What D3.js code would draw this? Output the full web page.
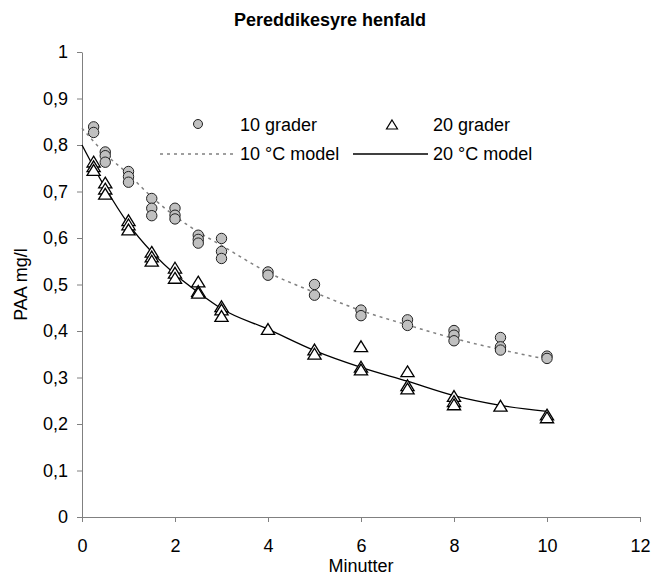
<!DOCTYPE html>
<html lang="da">
<head>
<meta charset="utf-8">
<title>Pereddikesyre henfald</title>
<script src="https://d3js.org/d3.v7.min.js"></script>
<style>
  body { margin: 0; background: #fff; }
  svg { font-family: "Liberation Sans", Arial, sans-serif; }
  .tick text { font-size: 18px; fill: #000; }
</style>
</head>
<body>
<svg id="chart" width="654" height="575"></svg>
<script>
// data
var t10 = [0.25,0.25, 0.5,0.5,0.5, 1,1,1, 1.5,1.5,1.5, 2,2,2, 2.5,2.5,2.5, 3,3,3, 4,4, 5,5, 6,6, 7,7, 8,8,8, 9,9,9, 10,10];
var paa10 = [0.839,0.827, 0.785,0.777,0.763, 0.743,0.732,0.720, 0.685,0.664,0.648, 0.664,0.649,0.641, 0.606,0.597,0.589, 0.599,0.571,0.556, 0.527,0.520, 0.500,0.477, 0.445,0.433, 0.424,0.412, 0.401,0.391,0.379, 0.386,0.366,0.359, 0.346,0.341];

var t20 = [0.25,0.25,0.25, 0.5,0.5,0.5, 1,1,1, 1.5,1.5,1.5, 2,2,2, 2.5,2.5,2.5, 3,3,3, 4, 5,5, 6,6,6, 7,7,7, 8,8,8, 9, 10,10];
var paa20 = [0.763,0.753,0.745, 0.718,0.705,0.694, 0.637,0.628,0.617, 0.569,0.559,0.550, 0.535,0.524,0.513, 0.505,0.485,0.481, 0.452,0.445,0.431, 0.403, 0.359,0.350, 0.366,0.322,0.316, 0.312,0.282,0.275, 0.259,0.248,0.241, 0.238, 0.219,0.213];

var tModel = [0, 0.5, 1, 1.5, 2, 2.5, 3, 4, 5, 6, 7, 8, 9, 10];
var model10 = [0.836, 0.781, 0.737, 0.688, 0.647, 0.613, 0.584, 0.526, 0.483, 0.444, 0.413, 0.384, 0.360, 0.339];
var model20 = [0.800, 0.708, 0.630, 0.570, 0.522, 0.483, 0.448, 0.404, 0.358, 0.322, 0.292, 0.261, 0.240, 0.227];

var xTicks = [0, 2, 4, 6, 8, 10, 12];
var yTicks = [0, 0.1, 0.2, 0.3, 0.4, 0.5, 0.6, 0.7, 0.8, 0.9, 1];

var svg = d3.select("#chart");
var plotL = 82, plotR = 640, plotT = 52, plotB = 517;

var x = d3.scaleLinear().domain([0, 12]).range([plotL, plotR]);
var y = d3.scaleLinear().domain([0, 1]).range([plotB, plotT]);

var da = d3.formatLocale({decimal: ",", thousands: ".", grouping: [3], currency: ["", ""]});
var fmt = da.format("~g");

// axes
var xAxis = svg.append("g")
    .attr("transform", "translate(0," + plotB + ")")
    .call(d3.axisBottom(x).tickValues(xTicks).tickFormat(fmt).tickSize(5).tickSizeOuter(0));
var yAxis = svg.append("g")
    .attr("transform", "translate(" + plotL + ",0)")
    .call(d3.axisLeft(y).tickValues(yTicks).tickFormat(fmt).tickSize(5).tickPadding(9).tickSizeOuter(0));
svg.selectAll(".domain, .tick line").attr("stroke", "#808080");
xAxis.selectAll(".tick text").attr("y", 35).attr("dy", 0);

// model curves
var line = d3.line()
    .x(function(d) { return x(d[0]); })
    .y(function(d) { return y(d[1]); })
    .curve(d3.curveMonotoneX);

svg.append("path")
    .datum(d3.zip(tModel, model10))
    .attr("d", line)
    .attr("fill", "none")
    .attr("stroke", "#808080")
    .attr("stroke-width", 1.5)
    .attr("stroke-dasharray", "3,4");

svg.append("path")
    .datum(d3.zip(tModel, model20))
    .attr("d", line)
    .attr("fill", "none")
    .attr("stroke", "#000")
    .attr("stroke-width", 1.3);

// markers
function tri(s) {
  return "M0," + (-s) + "L" + (s * 1.1) + "," + (s * 0.8) + "L" + (-s * 1.1) + "," + (s * 0.8) + "Z";
}

svg.append("g").selectAll("path")
    .data(d3.zip(t20, paa20))
  .enter().append("path")
    .attr("d", tri(6))
    .attr("transform", function(d) { return "translate(" + x(d[0]) + "," + y(d[1]) + ")"; })
    .attr("fill", "#fff")
    .attr("stroke", "#000")
    .attr("stroke-width", 1.3);

svg.append("g").selectAll("circle")
    .data(d3.zip(t10, paa10))
  .enter().append("circle")
    .attr("cx", function(d) { return x(d[0]); })
    .attr("cy", function(d) { return y(d[1]); })
    .attr("r", 5.2)
    .attr("fill", "#c0c0c0")
    .attr("stroke", "#222")
    .attr("stroke-width", 1);

// legend
var lg = svg.append("g").attr("font-size", 18);
lg.append("circle").attr("cx", 198).attr("cy", 124).attr("r", 4.5)
    .attr("fill", "#c0c0c0").attr("stroke", "#222");
lg.append("text").attr("x", 240).attr("y", 130.5).text("10 grader");
lg.append("path").attr("d", tri(5)).attr("transform", "translate(392,125)")
    .attr("fill", "#fff").attr("stroke", "#000").attr("stroke-width", 1.2);
lg.append("text").attr("x", 433).attr("y", 130.5).text("20 grader");
lg.append("line").attr("x1", 160).attr("x2", 235).attr("y1", 154).attr("y2", 154)
    .attr("stroke", "#808080").attr("stroke-width", 1.5).attr("stroke-dasharray", "3,4");
lg.append("text").attr("x", 240).attr("y", 160).text("10 °C model");
lg.append("line").attr("x1", 353).attr("x2", 428).attr("y1", 154).attr("y2", 154)
    .attr("stroke", "#000").attr("stroke-width", 1.3);
lg.append("text").attr("x", 433).attr("y", 160).text("20 °C model");

// titles
svg.append("text").attr("x", 330).attr("y", 26).attr("text-anchor", "middle")
    .attr("font-size", 18).attr("font-weight", "bold").text("Pereddikesyre henfald");
svg.append("text").attr("x", (plotL + plotR) / 2).attr("y", 572).attr("text-anchor", "middle")
    .attr("font-size", 18).text("Minutter");
svg.append("text").attr("transform", "translate(27," + ((plotT + plotB) / 2) + ") rotate(-90)")
    .attr("text-anchor", "middle").attr("font-size", 18).text("PAA mg/l");
</script>
</body>
</html>
